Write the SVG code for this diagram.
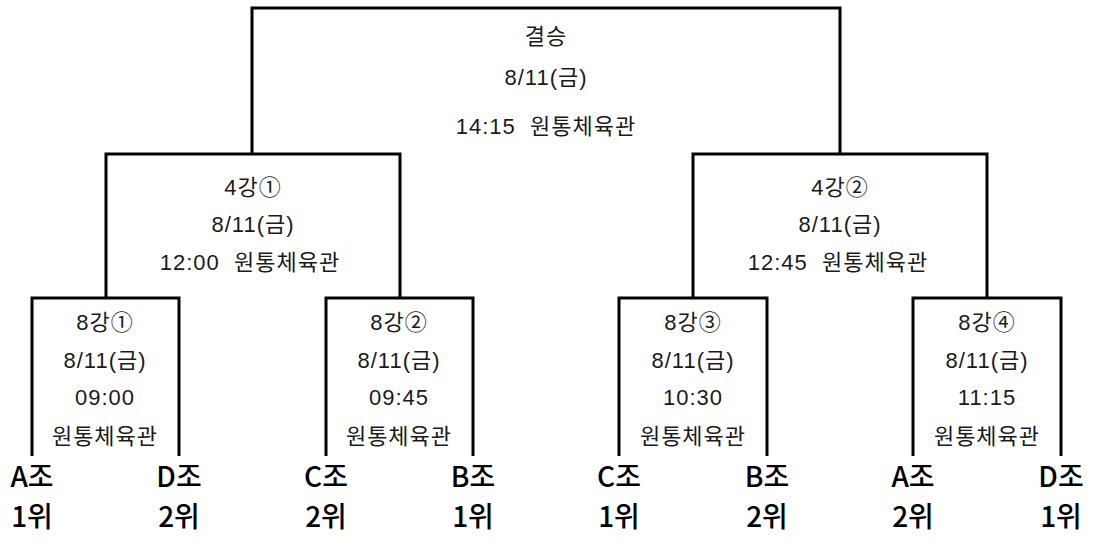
<svg xmlns="http://www.w3.org/2000/svg" width="1093" height="541" viewBox="0 0 1093 541">
<style>
.ln{fill:none;stroke:#000;stroke-width:3;stroke-linejoin:miter;stroke-linecap:butt}
.t{font-family:"Liberation Sans","Noto Sans CJK KR",sans-serif;font-size:22px;letter-spacing:1px;fill:#1a1a1a;text-anchor:middle;dominant-baseline:central;white-space:pre}
.b{font-family:"Noto Sans CJK KR","Liberation Sans",sans-serif;font-size:28px;font-weight:500;fill:#000;text-anchor:middle;dominant-baseline:central}
</style>
<rect width="1093" height="541" fill="#fff"/>
<g id="connectors">
<path class="ln" d="M252,154 V8 H840 V154"/>
<path class="ln" d="M106,298 V154 H400 V298"/>
<path class="ln" d="M693,298 V154 H987 V298"/>
<path class="ln" d="M32,456 V298 H179 V456"/>
<path class="ln" d="M326,456 V298 H473 V456"/>
<path class="ln" d="M619,456 V298 H767 V456"/>
<path class="ln" d="M913,456 V298 H1061 V456"/>
</g>
<g id="final">
<text class="t" x="546" y="36">결승</text>
<text class="t" x="546" y="77">8/11(금)</text>
<text class="t" x="546" y="126">14:15  원통체육관</text>
</g>
<g id="sf1">
<text class="t" x="253" y="187">4강①</text>
<text class="t" x="253" y="224">8/11(금)</text>
<text class="t" x="250" y="262">12:00  원통체육관</text>
</g>
<g id="sf2">
<text class="t" x="840" y="187">4강②</text>
<text class="t" x="840" y="224">8/11(금)</text>
<text class="t" x="838" y="262">12:45  원통체육관</text>
</g>
<g id="qf1">
<text class="t" x="105" y="322">8강①</text>
<text class="t" x="105" y="360">8/11(금)</text>
<text class="t" x="105" y="397">09:00</text>
<text class="t" x="105" y="436">원통체육관</text>
</g>
<g id="qf2">
<text class="t" x="399" y="322">8강②</text>
<text class="t" x="399" y="360">8/11(금)</text>
<text class="t" x="399" y="397">09:45</text>
<text class="t" x="399" y="436">원통체육관</text>
</g>
<g id="qf3">
<text class="t" x="693" y="322">8강③</text>
<text class="t" x="693" y="360">8/11(금)</text>
<text class="t" x="693" y="397">10:30</text>
<text class="t" x="693" y="436">원통체육관</text>
</g>
<g id="qf4">
<text class="t" x="987" y="322">8강④</text>
<text class="t" x="987" y="360">8/11(금)</text>
<text class="t" x="987" y="397">11:15</text>
<text class="t" x="987" y="436">원통체육관</text>
</g>
<g id="team-a1"><text class="b" x="32" y="475">A조</text><text class="b" x="32" y="515">1위</text></g>
<g id="team-d2"><text class="b" x="179" y="475">D조</text><text class="b" x="179" y="515">2위</text></g>
<g id="team-c2"><text class="b" x="326" y="475">C조</text><text class="b" x="326" y="515">2위</text></g>
<g id="team-b1"><text class="b" x="473" y="475">B조</text><text class="b" x="473" y="515">1위</text></g>
<g id="team-c1"><text class="b" x="619" y="475">C조</text><text class="b" x="619" y="515">1위</text></g>
<g id="team-b2"><text class="b" x="767" y="475">B조</text><text class="b" x="767" y="515">2위</text></g>
<g id="team-a2"><text class="b" x="913" y="475">A조</text><text class="b" x="913" y="515">2위</text></g>
<g id="team-d1"><text class="b" x="1061" y="475">D조</text><text class="b" x="1061" y="515">1위</text></g>
</svg>
